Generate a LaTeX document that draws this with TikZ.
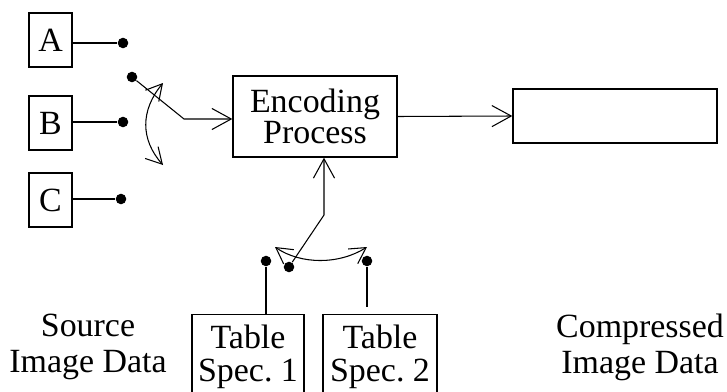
\documentclass[tikz,border=0pt]{standalone}
\usepackage{fontspec}
\setmainfont{Liberation Serif}
\usetikzlibrary{positioning}
\usetikzlibrary{arrows.meta}
\usetikzlibrary{bending}
\tikzset{circ/.style = {fill, circle, inner sep = 0, minimum size = 6pt}}
\tikzset{blk/.style = {draw, line width = 0.8pt, inner sep = 0}}
\tikzset{srcbox/.style = {blk, minimum width = 0.86cm, minimum height = 1.08cm}}
\tikzset{bigtip/.style = {-{Straight Barb[length=11pt,width=12pt]}}}
\tikzset{twotip/.style = {{Straight Barb[length=9pt,width=10pt]}-{Straight Barb[length=9pt,width=10pt]}}}
\tikzset{every picture/.style={
    line width=0.6pt,
    every node/.style={font=\fontsize{19.3}{20.5}\selectfont},
}}

\begin{document}
\begin{tikzpicture}[x=0.02cm, y=-0.02cm]
    \useasboundingbox (0,0) rectangle (727,392);
    \clip (0,0) rectangle (727,392);

    % sources and their switch
    \node[srcbox] (srcA) at (50.5,40) {A};
    \node[srcbox] (srcB) at (50.5,123) {B};
    \node[srcbox] (srcC) at (50.5,200) {C};
    \node[circ] (dA) at (123,43) {};
    \node[circ] (dB) at (123,122) {};
    \node[circ] (dC) at (121,199) {};
    \draw (srcA.east |- dA) -- (dA);
    \draw (srcB.east |- dB) -- (dB);
    \draw (srcC.east |- dC) -- (dC);

    \node[blk, minimum width=3.28cm, minimum height=1.62cm, align=center,
          font=\fontsize{19.3}{15.9}\selectfont] (enc) at (315,116.5) {Encoding\\Process};
    \node[blk, minimum width=4.08cm, minimum height=1.08cm] (cmpbox) at (615,116) {};

    \node[circ] (sw) at (132,77) {};
    \coordinate (knee) at (184,119);
    \draw[bigtip] (sw) -- (knee) -- (knee -| enc.west);
    \coordinate (rotT) at (163,83);
    \coordinate (rotB) at (163,165);
    \draw[twotip] (rotT) .. controls (140,110) and (140,140) .. (rotB);
    \draw[bigtip] (enc.east) -- (cmpbox.west);

    % table switch
    \node[blk, anchor=north, minimum width=2.24cm, inner ysep=0.2cm, text depth=2cm, align=center,
          font=\fontsize{19.3}{18.8}\selectfont] (tab1) at (248,314) {Table\\Spec.~1};
    \node[blk, anchor=north, minimum width=2.28cm, inner ysep=0.2cm, text depth=2cm, align=center,
          font=\fontsize{19.3}{18.8}\selectfont] (tab2) at (380,314) {Table\\Spec.~2};
    \node[circ] (tsw) at (289,267) {};
    \coordinate (knee2) at (324,215);
    \draw[bigtip] (tsw) -- (knee2) -- (knee2 |- enc.south);
    \node[circ] (dT1) at (266,261) {};
    \node[circ] (dT2) at (367,261) {};
    \draw (dT1) -- (dT1 |- tab1.north);
    \coordinate (endT2) at (367,307);
    \draw (dT2) -- (endT2);
    \coordinate (rotL) at (275,247);
    \coordinate (rotR) at (367,247);
    \draw[twotip] (rotL) .. controls (300,265) and (340,265) .. (rotR);

    \node[align=center] (srclab) at (88,347) {Source\\Image Data};
    \node[align=center] (cmplab) at (640,347) {Compressed\\Image Data};
\end{tikzpicture}
\end{document}
